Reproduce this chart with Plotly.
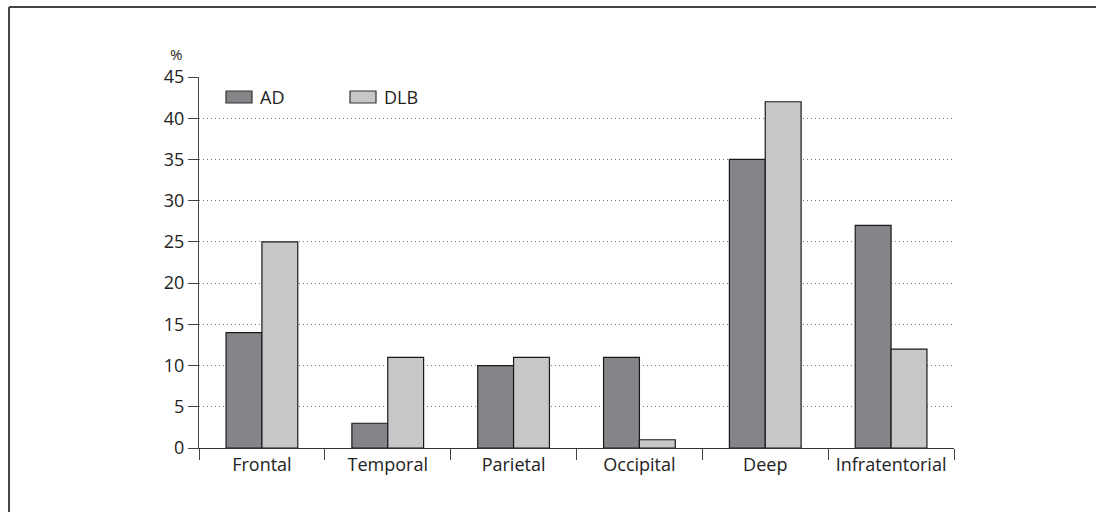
import plotly.graph_objects as go

categories = ["Frontal", "Temporal", "Parietal", "Occipital", "Deep", "Infratentorial"]
ad_values = [14, 3, 10, 11, 35, 27]
dlb_values = [25, 11, 11, 1, 42, 12]
y_ticks = [0, 5, 10, 15, 20, 25, 30, 35, 40, 45]

W, H = 1096, 512
# plot area in page pixels: x 199..954, y 77..448 (body margin removed)
PX0, PX1, PY0, PY1 = 199, 954, 77, 448
L, R = PX0, W - PX1
T, B = PY0, H - PY1
PW, PH = PX1 - PX0, PY1 - PY0

def px(x):
    return (x - PX0) / PW

def py(y):
    return (PY1 - y) / PH

FONT = "Open Sans, Segoe UI, DejaVu Sans, sans-serif"
FS = 18

fig = go.Figure()
fig.add_trace(go.Bar(x=categories, y=ad_values, name="AD",
                     marker=dict(color="#838588", line=dict(color="#1a1a1a", width=1.2))))
fig.add_trace(go.Bar(x=categories, y=dlb_values, name="DLB",
                     marker=dict(color="#c5c7c9", line=dict(color="#1a1a1a", width=1.2))))

fig.update_layout(
    width=W, height=H,
    margin=dict(l=L, r=R, t=T, b=B),
    paper_bgcolor="white", plot_bgcolor="white",
    barmode="group", bargap=0.43, bargroupgap=0,
    showlegend=False,
    font=dict(family=FONT, size=FS, color="#222"),
)
fig.update_xaxes(
    type="category", tickson="boundaries", ticks="outside", ticklen=11,
    tickcolor="#444", showline=True, linecolor="#333", linewidth=1.2,
    showgrid=False, range=[-0.5, 5.5], tickfont=dict(size=FS),
)
fig.update_yaxes(
    range=[0, 45], tickvals=y_ticks, ticks="outside", ticklen=10, tickcolor="#444",
    showline=True, linecolor="#444", linewidth=1.2,
    showgrid=True, gridcolor="#777", griddash="1px,3px", gridwidth=1,
    zeroline=False, tickfont=dict(size=FS),
)

# legend drawn in plot coordinates (paper)
legend = [("AD", "#838588", 226), ("DLB", "#c5c7c9", 350)]
for name, col, x0 in legend:
    fig.add_shape(type="rect", xref="paper", yref="paper",
                  x0=px(x0), x1=px(x0 + 26), y0=py(103), y1=py(91),
                  fillcolor=col, line=dict(color="#333", width=1.2))
    fig.add_annotation(text=name, xref="paper", yref="paper", x=px(x0 + 32), y=py(97),
                       xanchor="left", yanchor="middle", showarrow=False,
                       font=dict(size=FS, color="#222"))

fig.add_annotation(text="%", xref="paper", yref="paper", x=px(176), y=py(54),
                   xanchor="center", yanchor="middle", showarrow=False,
                   font=dict(size=15, color="#222"))

# outer frame
fig.add_shape(type="line", xref="paper", yref="paper",
              x0=px(9), x1=px(W + 20), y0=py(7), y1=py(7),
              line=dict(color="#444", width=2))
fig.add_shape(type="line", xref="paper", yref="paper",
              x0=px(9), x1=px(9), y0=py(7), y1=py(H + 20),
              line=dict(color="#444", width=2))

fig.write_html("out.html", config={"displayModeBar": False},
               post_script="document.body.style.margin='0';document.body.style.overflow='hidden';")
